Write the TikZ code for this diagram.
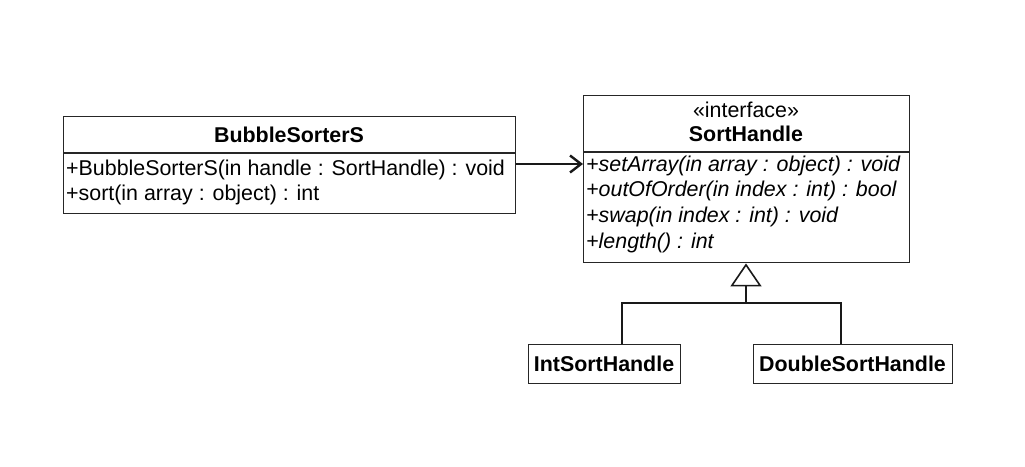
\documentclass[tikz,border=0pt]{standalone}
\usepackage{fontspec}
\setmainfont{Liberation Sans}
\usetikzlibrary{arrows.meta,calc}
\begin{document}
\begin{tikzpicture}[x=1pt,y=-1pt,
  box/.style={draw=black!85,line width=1.4pt,rectangle,inner sep=0pt,anchor=north west},
  txt/.style={inner sep=0pt,anchor=west,font=\fontsize{21.4}{24}\selectfont},
  ctxt/.style={inner sep=0pt,font=\fontsize{21.4}{24}\selectfont},
  itxt/.style={txt,font=\fontsize{21.4}{24}\selectfont\itshape},
  bold/.style={ctxt,font=\fontsize{21.4}{24}\selectfont\bfseries},
  conn/.style={line width=2.2pt,black!90},
]
\useasboundingbox (0,0) rectangle (1025,466);
% BubbleSorterS
\node[box,minimum width=452pt,minimum height=97pt] (bs) at (63,116) {};
\draw[line width=1.2pt,black!85] ($(bs.north west)+(0,37)$) -- ($(bs.north east)+(0,37)$);
\node[bold] (bst) at (289,135) {BubbleSorterS};
\node[txt] (bs1) at (66,170) {+BubbleSorterS(in handle : SortHandle) : void};
\node[txt] (bs2) at (66,195) {+sort(in array : object) : int};
% SortHandle
\node[box,minimum width=326pt,minimum height=167pt] (sh) at (583,95) {};
\draw[line width=1.2pt,black!85] ($(sh.north west)+(0,57)$) -- ($(sh.north east)+(0,57)$);
\node[ctxt] (sht1) at (746,110) {«interface»};
\node[bold] (sht2) at (746,134) {SortHandle};
\node[itxt] (sh1) at (586,166) {+setArray(in array : object) : void};
\node[itxt] (sh2) at (586,191) {+outOfOrder(in index : int) : bool};
\node[itxt] (sh3) at (586,217) {+swap(in index : int) : void};
\node[itxt] (sh4) at (586,243) {+length() : int};
% subclasses
\node[box,minimum width=152pt,minimum height=39pt] (ish) at (528,344) {};
\node[bold] (isht) at (604,364) {IntSortHandle};
\node[box,minimum width=199pt,minimum height=39pt] (dsh) at (753,344) {};
\node[bold] (dsht) at (852.5,364) {DoubleSortHandle};
% association
\draw[conn,-{Straight Barb[length=11pt,width=17pt,line width=2.4pt]}] (bs.east |- 0,164) -- (sh.west |- 0,164);
% generalization
\coordinate (j) at (746,303);
\coordinate (ia) at ($(ish.north west)+(94,0)$);
\coordinate (da) at ($(dsh.north west)+(88,0)$);
\draw[conn] (ia) |- (da |- j) -- (da);
\draw[conn,-{Triangle[open,length=23pt,width=31pt,line width=1.6pt]}] (j) -- (j |- sh.south);
\end{tikzpicture}
\end{document}
